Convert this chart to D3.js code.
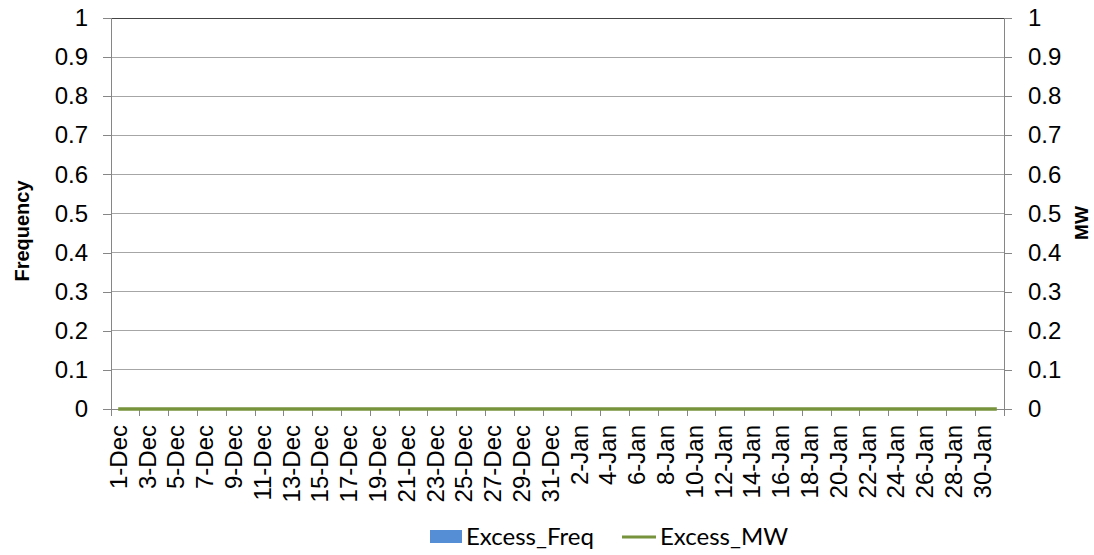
<!DOCTYPE html>
<html><head><meta charset="utf-8">
<script src="https://cdn.jsdelivr.net/npm/d3@7"></script>
<style>body{margin:0;background:#fff}</style>
</head><body>
<svg id="c" width="1094" height="555"></svg>
<script>
const decDays = d3.range(1, 32).map(d => d + "-Dec");
const janDays = d3.range(1, 32).map(d => d + "-Jan");
const categories = decDays.concat(janDays);
const excessFreq = [0,0,0,0,0,0,0,0,0,0,0,0,0,0,0,0,0,0,0,0,0,0,0,0,0,0,0,0,0,0,0,
                    0,0,0,0,0,0,0,0,0,0,0,0,0,0,0,0,0,0,0,0,0,0,0,0,0,0,0,0,0,0,0];
const excessMW = [0,0,0,0,0,0,0,0,0,0,0,0,0,0,0,0,0,0,0,0,0,0,0,0,0,0,0,0,0,0,0,
                  0,0,0,0,0,0,0,0,0,0,0,0,0,0,0,0,0,0,0,0,0,0,0,0,0,0,0,0,0,0,0];
const yTicks = [0,0.1,0.2,0.3,0.4,0.5,0.6,0.7,0.8,0.9,1];
const seriesNames = ["Excess_Freq", "Excess_MW"];

const svg = d3.select("#c");
const L = 111, R = 1004, T = 18, B = 409;
const x = d3.scaleBand().domain(categories).range([L, R]).padding(0.3);
const xb = d3.scaleBand().domain(categories).range([L, R]).padding(0);
const yL = d3.scaleLinear().domain([0, 1]).range([B, T]);
const yR = d3.scaleLinear().domain([0, 1]).range([B, T]);
const font = "Liberation Sans, Arial, sans-serif";
const legFont = "Lato, Open Sans, sans-serif";

// gridlines
svg.append("g").selectAll("line").data(yTicks).join("line")
  .attr("x1", L).attr("x2", R).attr("y1", d => yL(d)).attr("y2", d => yL(d))
  .attr("stroke", d => d === 1 ? "#444" : "#a6a6a6").attr("stroke-width", 1)
  .attr("shape-rendering", "crispEdges");

// left axis
const gl = svg.append("g").attr("transform", `translate(${L},0)`)
  .call(d3.axisLeft(yL).tickValues(yTicks).tickSize(8).tickPadding(15).tickFormat(d => String(d)));
// right axis
const gr = svg.append("g").attr("transform", `translate(${R},0)`)
  .call(d3.axisRight(yR).tickValues(yTicks).tickSize(8).tickPadding(16).tickFormat(d => String(d)));
[gl, gr].forEach(g => {
  g.attr("font-family", font).attr("font-size", 24);
  g.select(".domain").attr("stroke", "#868686").attr("shape-rendering", "crispEdges");
  g.selectAll(".tick line").attr("stroke", "#868686").attr("shape-rendering", "crispEdges");
  g.selectAll(".tick text").attr("fill", "#000");
});

// x axis
const gx = svg.append("g").attr("transform", `translate(0,${B})`);
gx.append("line").attr("x1", L).attr("x2", R).attr("y1", 0).attr("y2", 0)
  .attr("stroke", "#868686").attr("shape-rendering", "crispEdges");
const tickCats = categories.filter((d, i) => i % 2 === 0);
gx.selectAll("line.tk").data(tickCats.concat([null])).join("line").attr("class", "tk")
  .attr("x1", d => d === null ? R : xb(d)).attr("x2", d => d === null ? R : xb(d))
  .attr("y1", 0).attr("y2", 7).attr("stroke", "#868686").attr("shape-rendering", "crispEdges");
gx.selectAll("text").data(tickCats).join("text")
  .attr("transform", d => `translate(${xb(d) + xb.bandwidth() / 2 + 8.5},16) rotate(-90)`)
  .attr("text-anchor", "end").attr("font-family", font).attr("font-size", 24).attr("fill", "#000")
  .text(d => d);

// bars
svg.append("g").selectAll("rect").data(excessFreq).join("rect")
  .attr("x", (d, i) => x(categories[i])).attr("width", x.bandwidth())
  .attr("y", d => yL(d)).attr("height", d => yL(0) - yL(d)).attr("fill", "#558ED5");

// line
svg.append("path").datum(excessMW)
  .attr("d", d3.line().x((d, i) => xb(categories[i]) + xb.bandwidth() / 2).y(d => yR(d)))
  .attr("fill", "none").attr("stroke", "#77933C").attr("stroke-width", 3.5);

// axis titles
svg.append("text").attr("transform", "translate(29,231) rotate(-90)")
  .attr("text-anchor", "middle").attr("font-family", font).attr("font-size", 20)
  .attr("font-weight", "bold").text("Frequency");
svg.append("text").attr("transform", "translate(1088,223) rotate(-90)")
  .attr("text-anchor", "middle").attr("font-family", font).attr("font-size", 19)
  .attr("font-weight", "bold").text("MW");

// legend
const lg = svg.append("g");
lg.append("rect").attr("x", 430).attr("y", 530).attr("width", 32).attr("height", 13).attr("fill", "#558ED5");
lg.append("text").attr("x", 466).attr("y", 545).attr("font-family", legFont)
  .attr("font-size", 24).text(seriesNames[0]);
lg.append("line").attr("x1", 622).attr("x2", 656).attr("y1", 537).attr("y2", 537)
  .attr("stroke", "#77933C").attr("stroke-width", 3);
lg.append("text").attr("x", 660).attr("y", 545).attr("font-family", legFont)
  .attr("font-size", 24).text(seriesNames[1]);
</script>
</body></html>
